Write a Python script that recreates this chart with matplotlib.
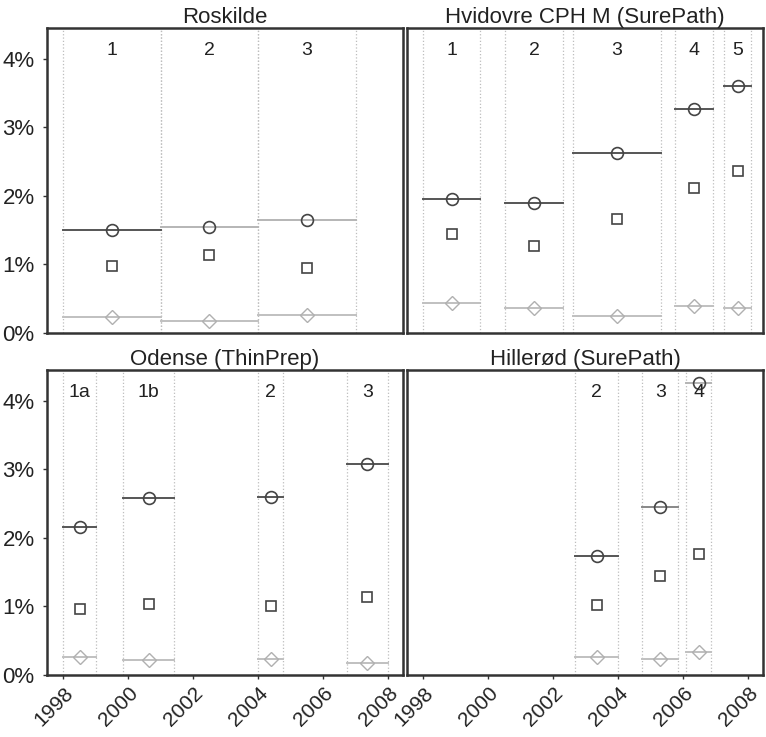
import matplotlib.pyplot as plt

plt.rcParams['font.family'] = ['Liberation Sans', 'DejaVu Sans']

# --- data (values in %) ---
roskilde_start = [1998.0, 2001.0, 2004.0]
roskilde_end = [2001.0, 2004.0, 2007.0]
roskilde_labels = ['1', '2', '3']
roskilde_circle = [1.50, 1.55, 1.65]
roskilde_square = [0.97, 1.14, 0.95]
roskilde_diamond = [0.23, 0.18, 0.26]
roskilde_shade = ['dark', 'light', 'light']

hvidovre_start = [1998.0, 2000.52, 2002.6, 2005.75, 2007.27]
hvidovre_end = [1999.75, 2002.3, 2005.33, 2006.93, 2008.08]
hvidovre_labels = ['1', '2', '3', '4', '5']
hvidovre_circle = [1.96, 1.89, 2.62, 3.27, 3.61]
hvidovre_square = [1.44, 1.27, 1.67, 2.11, 2.36]
hvidovre_diamond = [0.44, 0.36, 0.25, 0.39, 0.36]
hvidovre_shade = ['dark', 'dark', 'dark', 'dark', 'dark']

odense_start = [1998.0, 1999.85, 2004.0, 2006.73]
odense_end = [1999.0, 2001.4, 2004.77, 2008.0]
odense_labels = ['1a', '1b', '2', '3']
odense_circle = [2.16, 2.58, 2.60, 3.08]
odense_square = [0.97, 1.03, 1.00, 1.14]
odense_diamond = [0.26, 0.22, 0.24, 0.18]
odense_shade = ['dark', 'dark', 'dark', 'dark']

hillerod_start = [2002.67, 2004.74, 2006.1]
hillerod_end = [2004.0, 2005.85, 2006.85]
hillerod_labels = ['2', '3', '4']
hillerod_circle = [1.74, 2.45, 4.26]
hillerod_square = [1.02, 1.45, 1.77]
hillerod_diamond = [0.26, 0.23, 0.34]
hillerod_shade = ['dark', 'mid', 'light']

year_ticks = [1998, 2000, 2002, 2004, 2006, 2008]
pct_ticks = [0, 1, 2, 3, 4]

shade_color = {'dark': '#555555', 'mid': '#888888', 'light': '#b5b5b5'}


def draw_panel(ax, title, start, end, labels, circ, sq, dia, shade):
    for s, e, lab, c, q, d, sh in zip(start, end, labels, circ, sq, dia, shade):
        mid = (s + e) / 2
        ax.axvline(s, color='#bdbdbd', ls=':', lw=0.9, zorder=1)
        ax.axvline(e, color='#bdbdbd', ls=':', lw=0.9, zorder=1)
        ax.plot([s, e], [c, c], color=shade_color[sh], lw=1.4, zorder=2)
        ax.plot([s, e], [d, d], color='#c0c0c0', lw=1.4, zorder=2)
        ax.plot(mid, c, 'o', ms=8.5, mfc='none', mec='#444444', mew=1.2, zorder=3)
        ax.plot(mid, q, 's', ms=6.5, mfc='none', mec='#444444', mew=1.2, zorder=3)
        ax.plot(mid, d, 'D', ms=7, mfc='none', mec='#b0b0b0', mew=1.0, zorder=3)
        ax.text(mid, 4.12, lab, ha='center', va='center', fontsize=14, color='#222222')
    ax.set_title(title, fontsize=16, pad=3, color='#222222')
    ax.set_xlim(1997.5, 2008.46)
    ax.set_ylim(0, 4.45)
    for sp in ax.spines.values():
        sp.set_linewidth(1.8)
        sp.set_color('#333333')


fig = plt.figure(figsize=(7.66, 7.37), dpi=100)
w, h = 0.4648, 0.4138
ax1 = fig.add_axes([0.0614, 0.5482, w, h])
ax2 = fig.add_axes([0.5313, 0.5482, w, h])
ax3 = fig.add_axes([0.0614, 0.0841, w, h])
ax4 = fig.add_axes([0.5313, 0.0841, w, h])

draw_panel(ax1, 'Roskilde', roskilde_start, roskilde_end, roskilde_labels,
           roskilde_circle, roskilde_square, roskilde_diamond, roskilde_shade)
draw_panel(ax2, 'Hvidovre CPH M (SurePath)', hvidovre_start, hvidovre_end, hvidovre_labels,
           hvidovre_circle, hvidovre_square, hvidovre_diamond, hvidovre_shade)
draw_panel(ax3, 'Odense (ThinPrep)', odense_start, odense_end, odense_labels,
           odense_circle, odense_square, odense_diamond, odense_shade)
draw_panel(ax4, 'Hillerød (SurePath)', hillerod_start, hillerod_end, hillerod_labels,
           hillerod_circle, hillerod_square, hillerod_diamond, hillerod_shade)

for ax in (ax1, ax3):
    ax.set_yticks(pct_ticks)
    ax.set_yticklabels([f'{p}%' for p in pct_ticks], fontsize=16, color='#222222')
    ax.tick_params(axis='y', length=3, width=1, color='#333333', pad=6)
for ax in (ax2, ax4):
    ax.set_yticks([])
for ax in (ax1, ax2):
    ax.set_xticks([])
for ax in (ax3, ax4):
    ax.set_xticks(year_ticks)
    ax.set_xticklabels([str(y) for y in year_ticks], rotation=45, ha='right',
                       rotation_mode='anchor', fontsize=15, color='#222222')
    ax.tick_params(axis='x', length=3, width=1, color='#333333', pad=3)

fig.savefig('out.png', dpi=100)
plt.close(fig)
